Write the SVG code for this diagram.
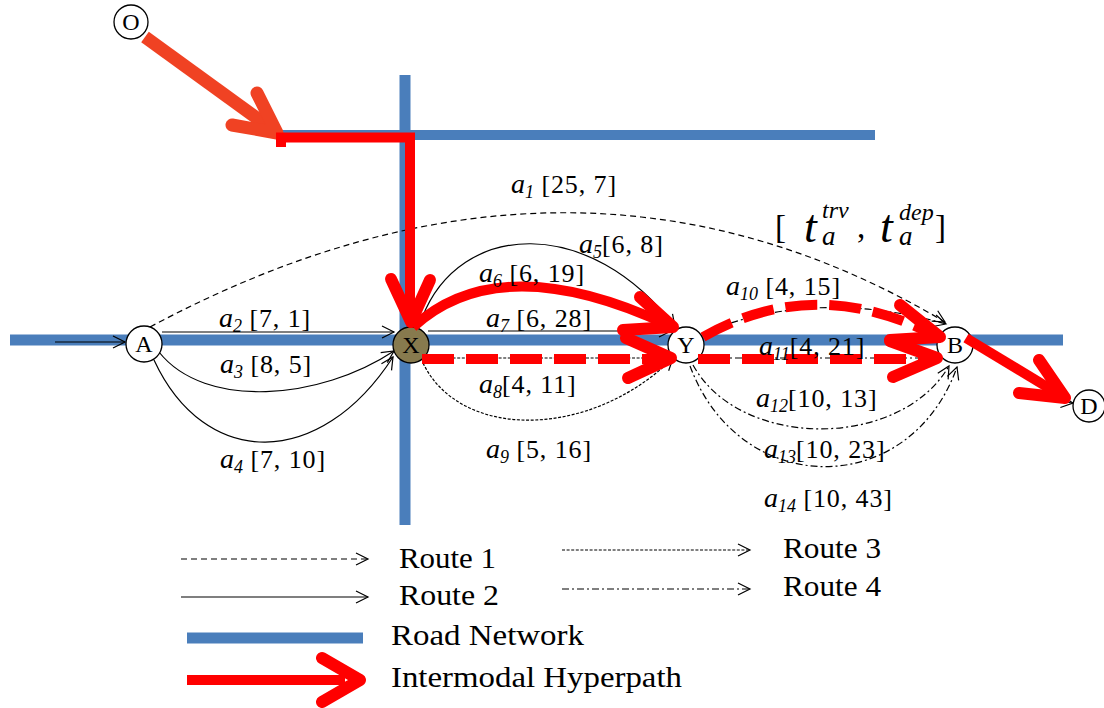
<svg xmlns="http://www.w3.org/2000/svg" width="1104" height="708" viewBox="0 0 1104 708">
<style>
.road{stroke:#4A7EBB;fill:none}
.thin{stroke:#000;stroke-width:1.2;fill:none}
.r1{stroke-dasharray:6,4}
.r3{stroke-dasharray:3,1.6}
.r4{stroke-dasharray:7,3,2,3}
.hp{stroke:#FF0000;fill:none;stroke-width:10}
.hpd{stroke:#FF0000;fill:none;stroke-width:10;stroke-dasharray:32,12}
.chev{stroke:#FF0000;fill:none;stroke-width:12;stroke-linecap:round;stroke-linejoin:round}
.node{fill:#fff;stroke:#000;stroke-width:1.3}
.nt{font-family:"Liberation Serif","Times New Roman",serif;font-size:24px;text-anchor:middle;fill:#000}
.lbl{font-family:"Liberation Serif","Times New Roman",serif;font-size:26px;fill:#000;letter-spacing:0.9px}
.it{font-style:italic;font-size:28px;letter-spacing:0}
.sb{font-style:italic;font-size:18px;letter-spacing:0}
.lg{font-family:"Liberation Serif","Times New Roman",serif;font-size:30px;fill:#000}
</style>
<defs>
<marker id="ah" markerUnits="userSpaceOnUse" markerWidth="16" markerHeight="16" viewBox="-14 -8 16 16" refX="0" refY="0" orient="auto">
<path d="M-12,-6 L0,0 L-12,6" fill="none" stroke="#000" stroke-width="1.2"/>
</marker>
</defs>

<g id="roads">
<line class="road" x1="10" y1="340" x2="1063" y2="340" stroke-width="11"/>
<line class="road" x1="405" y1="75" x2="405" y2="525" stroke-width="11"/>
<line class="road" x1="277" y1="135" x2="875" y2="135" stroke-width="10"/>
</g>

<g id="connectors">
<line class="thin" x1="55" y1="342" x2="125" y2="342" marker-end="url(#ah)"/>
<path id="a1" class="thin r1" d="M150,327 Q572,101 945,322" marker-end="url(#ah)"/>
<line id="a2" class="thin" x1="162" y1="332" x2="394" y2="332" marker-end="url(#ah)"/>
<path id="a3" class="thin" d="M159,352 C205,410 320,400 394,351" marker-end="url(#ah)"/>
<path id="a4" class="thin" d="M154,360 C205,470 320,470 393,357" marker-end="url(#ah)"/>
<path id="a5" class="thin" d="M422,318 C460,220 590,215 675,327" marker-end="url(#ah)"/>
<line id="a7" class="thin" x1="428" y1="331" x2="671" y2="331" marker-end="url(#ah)"/>
<path id="a8" class="thin r3" d="M423,363 C460,440 590,440 673,358" marker-end="url(#ah)"/>
<line id="a9" class="thin r3" x1="425" y1="358" x2="671" y2="358" marker-end="url(#ah)"/>
<path id="a10" class="thin r4" d="M703,333 Q815,287 946,324" marker-end="url(#ah)"/>
<line id="a11" class="thin r4" x1="705" y1="358" x2="937" y2="358" marker-end="url(#ah)"/>
<path id="a12" class="thin r4" d="M693,365 C740,450 900,450 949,366" marker-end="url(#ah)"/>
<path id="a13" class="thin r4" d="M690,366 C740,500 910,500 957,367" marker-end="url(#ah)"/>
<line class="thin" x1="1056" y1="401" x2="1073" y2="403" marker-end="url(#ah)"/>
</g>

<g id="nodes">
<g id="node-O"><circle class="node" cx="131" cy="22" r="17"/><text class="nt" x="131" y="30">O</text></g>
<g id="node-A"><circle class="node" cx="144" cy="344" r="18"/><text class="nt" x="144" y="352">A</text></g>
<g id="node-X"><circle cx="411" cy="345" r="18" fill="#877A4E" stroke="#000" stroke-width="1.3"/><text class="nt" x="411" y="353">X</text></g>
<g id="node-Y"><circle class="node" cx="686" cy="345" r="18"/><text class="nt" x="686" y="353">Y</text></g>
<g id="node-B"><circle class="node" cx="955" cy="345" r="18"/><text class="nt" x="955" y="353">B</text></g>
<g id="node-D"><circle class="node" cx="1089" cy="406" r="16"/><text class="nt" x="1089" y="414">D</text></g>
</g>

<g id="hyperpath">
<line x1="145" y1="37" x2="272" y2="129" stroke="#F04223" stroke-width="13"/>
<polyline points="232,125 277,133 257,93" fill="none" stroke="#F04223" stroke-width="13" stroke-linecap="round" stroke-linejoin="round"/>
<polyline class="hp" points="281,147 281,137.5 410,137.5 410,318" stroke-width="9"/>
<polyline class="chev" points="391,279 411,322 430,280" stroke-width="11"/>
<path class="hp" d="M413,327 Q500,247 668,325"/>
<polyline class="chev" points="640,297 673,327 623,330"/>
<line class="hpd" x1="422" y1="359" x2="668" y2="359"/>
<polyline class="chev" points="626,338 671,358 628,378"/>
<path class="hpd" d="M703,337 Q815,273 936,336"/>
<polyline class="chev" points="900,305 940,337 890,340"/>
<line class="hpd" x1="698" y1="359" x2="932" y2="359"/>
<polyline class="chev" points="890,341 937,358 893,377"/>
<line class="hp" x1="966" y1="338" x2="1062" y2="396"/>
<polyline class="chev" points="1039,360 1065,398 1019,393"/>
</g>

<g id="labels">
<text class="lbl" x="511" y="193"><tspan class="it">a</tspan><tspan class="sb" dy="5">1</tspan><tspan dy="-5"> [25, 7]</tspan></text>
<text class="lbl" x="219" y="327"><tspan class="it">a</tspan><tspan class="sb" dy="5">2</tspan><tspan dy="-5"> [7, 1]</tspan></text>
<text class="lbl" x="220" y="373"><tspan class="it">a</tspan><tspan class="sb" dy="5">3</tspan><tspan dy="-5"> [8, 5]</tspan></text>
<text class="lbl" x="220" y="468"><tspan class="it">a</tspan><tspan class="sb" dy="5">4</tspan><tspan dy="-5"> [7, 10]</tspan></text>
<text class="lbl" x="579" y="253"><tspan class="it">a</tspan><tspan class="sb" dy="5">5</tspan><tspan dy="-5">[6, 8]</tspan></text>
<text class="lbl" x="479" y="282"><tspan class="it">a</tspan><tspan class="sb" dy="5">6</tspan><tspan dy="-5"> [6, 19]</tspan></text>
<text class="lbl" x="486" y="327"><tspan class="it">a</tspan><tspan class="sb" dy="5">7</tspan><tspan dy="-5"> [6, 28]</tspan></text>
<text class="lbl" x="479" y="393"><tspan class="it">a</tspan><tspan class="sb" dy="5">8</tspan><tspan dy="-5">[4, 11]</tspan></text>
<text class="lbl" x="486" y="458"><tspan class="it">a</tspan><tspan class="sb" dy="5">9</tspan><tspan dy="-5"> [5, 16]</tspan></text>
<text class="lbl" x="726" y="295"><tspan class="it">a</tspan><tspan class="sb" dy="5">10</tspan><tspan dy="-5"> [4, 15]</tspan></text>
<text class="lbl" x="759" y="355"><tspan class="it">a</tspan><tspan class="sb" dy="5">11</tspan><tspan dy="-5">[4, 21]</tspan></text>
<text class="lbl" x="756" y="407"><tspan class="it">a</tspan><tspan class="sb" dy="5">12</tspan><tspan dy="-5">[10, 13]</tspan></text>
<text class="lbl" x="764" y="458"><tspan class="it">a</tspan><tspan class="sb" dy="5">13</tspan><tspan dy="-5">[10, 23]</tspan></text>
<text class="lbl" x="764" y="507"><tspan class="it">a</tspan><tspan class="sb" dy="5">14</tspan><tspan dy="-5"> [10, 43]</tspan></text>
<g id="header" font-family="'Liberation Serif','Times New Roman',serif" fill="#000">
<text x="775" y="238" font-size="33">[</text>
<text x="804" y="242" font-size="46" font-style="italic">t</text>
<text x="822" y="218" font-size="24" font-style="italic">trv</text>
<text x="822" y="245" font-size="27" font-style="italic">a</text>
<text x="857" y="238" font-size="33">,</text>
<text x="880" y="242" font-size="46" font-style="italic">t</text>
<text x="899" y="220" font-size="24" font-style="italic">dep</text>
<text x="899" y="245" font-size="27" font-style="italic">a</text>
<text x="935" y="238" font-size="33">]</text>
</g>
</g>

<g id="legend">
<line class="thin r1" x1="181" y1="559" x2="368" y2="559" marker-end="url(#ah)"/>
<text class="lg" x="399" y="568" textLength="97" lengthAdjust="spacingAndGlyphs">Route 1</text>
<line class="thin" x1="181" y1="597" x2="368" y2="597" marker-end="url(#ah)"/>
<text class="lg" x="399" y="605" textLength="100" lengthAdjust="spacingAndGlyphs">Route 2</text>
<line class="thin r3" x1="562" y1="550" x2="750" y2="550" marker-end="url(#ah)"/>
<text class="lg" x="783" y="558" textLength="98" lengthAdjust="spacingAndGlyphs">Route 3</text>
<line class="thin r4" x1="562" y1="589" x2="750" y2="589" marker-end="url(#ah)"/>
<text class="lg" x="783" y="596" textLength="98" lengthAdjust="spacingAndGlyphs">Route 4</text>
<line class="road" x1="187" y1="638" x2="363" y2="638" stroke-width="11"/>
<text class="lg" x="391" y="645" textLength="193" lengthAdjust="spacingAndGlyphs">Road Network</text>
<line class="hp" x1="187" y1="680" x2="345" y2="680" stroke-width="12"/>
<polyline class="chev" points="322,658 360,680 322,702" stroke-width="13"/>
<text class="lg" x="391" y="687" textLength="291" lengthAdjust="spacingAndGlyphs">Intermodal Hyperpath</text>
</g>
</svg>
